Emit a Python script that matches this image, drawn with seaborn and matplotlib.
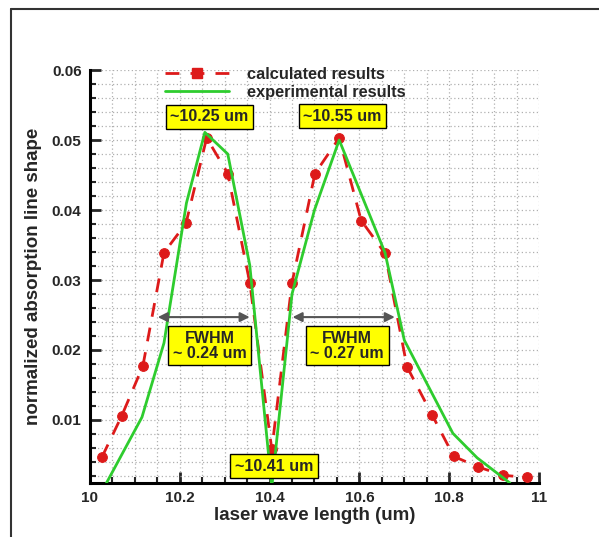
import numpy as np
import pandas as pd
import matplotlib
matplotlib.use("Agg")
import matplotlib.pyplot as plt
from matplotlib.ticker import MultipleLocator, FixedLocator, FixedFormatter
from matplotlib.lines import Line2D
import seaborn as sns

# ---- data ----
calc_x = [10.027, 10.071, 10.118, 10.165, 10.214, 10.26, 10.307, 10.356, 10.405, 10.45,
          10.501, 10.555, 10.604, 10.657, 10.706, 10.762, 10.81, 10.864, 10.92, 10.973]
calc_y = [0.0047, 0.0106, 0.0177, 0.0339, 0.0381, 0.0503, 0.0452, 0.0296, 0.0058, 0.0296,
          0.0452, 0.0503, 0.0385, 0.0338, 0.0176, 0.0107, 0.0048, 0.0033, 0.0021, 0.0018]

exp_x = [10.037, 10.116, 10.165, 10.215, 10.256, 10.307, 10.356, 10.405, 10.45, 10.5,
         10.555, 10.657, 10.70, 10.808, 10.862, 10.935]
exp_y = [0.0010, 0.0104, 0.0210, 0.0410, 0.0511, 0.0480, 0.0321, 0.0004, 0.0280, 0.0400,
         0.0500, 0.0339, 0.0214, 0.0081, 0.0046, 0.0010]

series_names = ["calculated results", "experimental results"]
x_ticks = [10, 10.2, 10.4, 10.6, 10.8, 11]
x_tick_labels = ["10", "10.2", "10.4", "10.6", "10.8", "11"]
y_ticks = [0.01, 0.02, 0.03, 0.04, 0.05, 0.06]
y_tick_labels = ["0.01", "0.02", "0.03", "0.04", "0.05", "0.06"]

peak_labels = ["~10.25 um", "~10.55 um", "~10.41 um"]
fwhm_labels = ["FWHM\n~ 0.24 um", "FWHM\n~ 0.27 um"]

calc_df = pd.DataFrame({"x": calc_x, "y": calc_y})
exp_df = pd.DataFrame({"x": exp_x, "y": exp_y})

sns.set_style("white")
plt.rcParams["font.family"] = ["Liberation Sans", "DejaVu Sans"]
plt.rcParams["font.weight"] = "bold"

fig = plt.figure(figsize=(5.99, 5.37), dpi=100)
ax = fig.add_axes([0.150, 0.1006, 0.750, 0.7690])

RED = "#dd1a1a"
GREEN = "#2ecc2e"

sns.lineplot(data=calc_df, x="x", y="y", ax=ax, color=RED, lw=2.0,
             linestyle=(0, (5, 4)), marker="o", markersize=7,
             markeredgecolor=RED, sort=False, zorder=4)
sns.lineplot(data=exp_df, x="x", y="y", ax=ax, color=GREEN, lw=2.0,
             sort=False, zorder=5)

ax.set_xlim(10, 11)
ax.set_ylim(0.001, 0.06)

ax.xaxis.set_major_locator(FixedLocator(x_ticks))
ax.xaxis.set_major_formatter(FixedFormatter(x_tick_labels))
ax.xaxis.set_minor_locator(MultipleLocator(0.05))
ax.yaxis.set_major_locator(FixedLocator(y_ticks))
ax.yaxis.set_major_formatter(FixedFormatter(y_tick_labels))
ax.yaxis.set_minor_locator(MultipleLocator(0.002))

ax.grid(True, which="both", color="#b0b0b0", linestyle=(0, (1, 2)), lw=0.9)
ax.set_axisbelow(True)

for s in ["top", "right"]:
    ax.spines[s].set_visible(False)
for s in ["left", "bottom"]:
    ax.spines[s].set_linewidth(2.2)
    ax.spines[s].set_color("black")

ax.tick_params(which="major", direction="in", length=8, width=2, labelsize=11,
               left=True, bottom=True, pad=6)
ax.tick_params(which="minor", direction="in", length=4, width=1.5, left=True, bottom=True)
for lab in ax.get_xticklabels() + ax.get_yticklabels():
    lab.set_fontweight("bold")

ax.set_xlabel("laser wave length (um)", fontsize=13.5, fontweight="bold", labelpad=1)
ax.set_ylabel("normalized absorption line shape", fontsize=13.5, fontweight="bold", labelpad=7)

# legend
handles = [Line2D([], [], color=RED, lw=2.0, linestyle=(0, (5, 4)), marker="s", markersize=7),
           Line2D([], [], color=GREEN, lw=2.0)]
leg = ax.legend(handles, series_names, loc="upper left", bbox_to_anchor=(0.152, 1.024),
                frameon=False, fontsize=11.8, handlelength=3.9, handletextpad=1.1,
                labelspacing=0.2, borderaxespad=0)
for t in leg.get_texts():
    t.set_fontweight("bold")

box = dict(boxstyle="square,pad=0.28", facecolor="#ffff00", edgecolor="black", lw=1.0)
fs = 11.5
ax.text(10.266, 0.0533, peak_labels[0], ha="center", va="center", fontsize=fs,
        fontweight="bold", bbox=box, zorder=7)
ax.text(10.562, 0.0534, peak_labels[1], ha="center", va="center", fontsize=fs,
        fontweight="bold", bbox=box, zorder=7)
ax.text(10.410, 0.0034, peak_labels[2], ha="center", va="center", fontsize=fs,
        fontweight="bold", bbox=box, zorder=7)
ax.text(10.267, 0.0206, fwhm_labels[0], ha="center", va="center", fontsize=fs,
        fontweight="bold", bbox=box, linespacing=1.0, zorder=7)
ax.text(10.573, 0.0206, fwhm_labels[1], ha="center", va="center", fontsize=fs,
        fontweight="bold", bbox=box, linespacing=1.0, zorder=7)

arrow_kw = dict(arrowstyle="<|-|>", color="#555555", lw=1.5, mutation_scale=14)
ax.annotate("", xy=(10.145, 0.0247), xytext=(10.362, 0.0247), arrowprops=arrow_kw, zorder=6)
ax.annotate("", xy=(10.445, 0.0247), xytext=(10.685, 0.0247), arrowprops=arrow_kw, zorder=6)

# outer frame lines (top and left)
fig.add_artist(Line2D([11 / 599, 1.0], [1 - 8.5 / 537, 1 - 8.5 / 537],
                      transform=fig.transFigure, color="#333333", lw=1.5))
fig.add_artist(Line2D([11 / 599, 11 / 599], [0.0, 1 - 8.5 / 537],
                      transform=fig.transFigure, color="#333333", lw=1.5))

fig.savefig("out.png", dpi=100)
